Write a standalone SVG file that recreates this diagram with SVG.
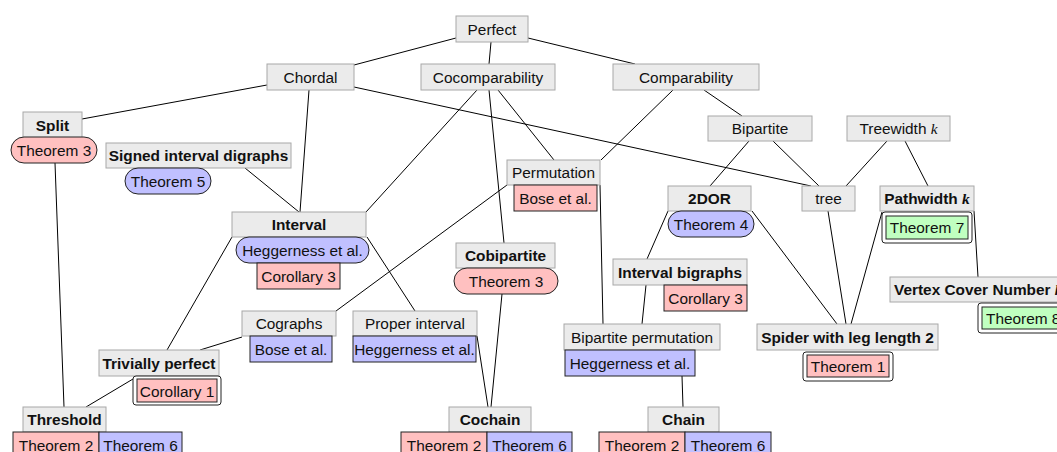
<svg xmlns="http://www.w3.org/2000/svg" width="1057" height="452" viewBox="0 0 1057 452">
<style>
.n{fill:#ebebeb;stroke:#a8a8a8;stroke-width:1}
.p{fill:#ffc0c0;stroke:#222;stroke-width:1}
.b{fill:#c0c0ff;stroke:#222;stroke-width:1}
.g{fill:#c0ffc0;stroke:#222;stroke-width:1}
.o{fill:#fff;stroke:#222;stroke-width:1}
text{font-family:"Liberation Sans",Arial,sans-serif;font-size:15.4px;fill:#111;text-anchor:middle}
.bd{font-weight:bold}
.st{text-anchor:start}
.m{font-family:"Liberation Serif","Times New Roman",serif;font-style:italic}
#edges line{stroke:#000;stroke-width:1}
</style>
<rect width="1057" height="452" fill="#fff"/>
<g id="edges">
<line x1="354" y1="65" x2="456" y2="38"/>
<line x1="491" y1="42" x2="489" y2="64"/>
<line x1="528" y1="38" x2="635" y2="64"/>
<line x1="267" y1="85" x2="82" y2="119"/>
<line x1="309" y1="90" x2="300" y2="212"/>
<line x1="354" y1="87" x2="811" y2="186"/>
<line x1="477" y1="90" x2="366" y2="212"/>
<line x1="489" y1="90" x2="504" y2="243"/>
<line x1="498" y1="90" x2="554" y2="160"/>
<line x1="673" y1="90" x2="601" y2="160"/>
<line x1="704" y1="90" x2="742" y2="116"/>
<line x1="245" y1="168" x2="299" y2="212"/>
<line x1="749" y1="141" x2="710" y2="186"/>
<line x1="773" y1="141" x2="819" y2="186"/>
<line x1="887" y1="141" x2="846" y2="186"/>
<line x1="905" y1="141" x2="928" y2="186"/>
<line x1="828" y1="211" x2="846" y2="324"/>
<line x1="882" y1="212" x2="851" y2="324"/>
<line x1="752" y1="211" x2="837" y2="324"/>
<line x1="974" y1="211" x2="978" y2="277"/>
<line x1="668" y1="211" x2="647" y2="259"/>
<line x1="646" y1="285" x2="642" y2="324"/>
<line x1="600" y1="185" x2="603" y2="324"/>
<line x1="507" y1="185" x2="336" y2="311"/>
<line x1="367" y1="237" x2="415" y2="311"/>
<line x1="232" y1="237" x2="167" y2="350"/>
<line x1="242" y1="337" x2="200" y2="350"/>
<line x1="133" y1="379" x2="86" y2="407"/>
<line x1="55" y1="163" x2="64" y2="407"/>
<line x1="502" y1="294" x2="491" y2="407"/>
<line x1="477" y1="336" x2="488" y2="407"/>
<line x1="682" y1="376" x2="683" y2="407"/>
</g>
<g id="perfect"><rect class="n" x="456" y="16" width="72" height="26"/><text x="492" y="34.5">Perfect</text></g>
<g id="chordal"><rect class="n" x="267" y="64" width="87" height="26"/><text x="310.5" y="82.5">Chordal</text></g>
<g id="cocomparability"><rect class="n" x="421" y="64" width="134" height="26"/><text x="488" y="82.5">Cocomparability</text></g>
<g id="comparability"><rect class="n" x="613" y="64" width="146" height="26"/><text x="686" y="82.5">Comparability</text></g>
<g id="bipartite"><rect class="n" x="708" y="116" width="104" height="25"/><text x="760" y="134">Bipartite</text></g>
<g id="treewidth"><rect class="n" x="847" y="116" width="103" height="25"/><text x="898.5" y="134">Treewidth <tspan class="m">k</tspan></text></g>
<g id="split"><rect class="n" x="23" y="112" width="59" height="26"/><text class="bd" x="52.5" y="130.5">Split</text>
<rect class="p" x="11" y="137" width="86" height="26" rx="13"/><text x="54" y="155.5">Theorem 3</text></g>
<g id="signed"><rect class="n" x="106" y="143" width="185" height="25"/><text class="bd" x="198.5" y="161">Signed interval digraphs</text>
<rect class="b" x="125" y="168" width="86" height="26" rx="13"/><text x="168" y="186.5">Theorem 5</text></g>
<g id="interval"><rect class="n" x="232" y="212" width="134" height="25"/><text class="bd" x="299" y="230">Interval</text>
<rect class="b" x="236" y="237" width="133" height="26" rx="13"/><text x="302.5" y="255.5">Heggerness et al.</text>
<rect class="p" x="257" y="263" width="83" height="26"/><text x="298.5" y="281.5">Corollary 3</text></g>
<g id="permutation"><rect class="n" x="507" y="160" width="93" height="25"/><text x="553.5" y="178">Permutation</text>
<rect class="p" x="514" y="185" width="83" height="26"/><text x="555.5" y="203.5">Bose et al.</text></g>
<g id="twodor"><rect class="n" x="668" y="186" width="83" height="25"/><text class="bd" x="709.5" y="204">2DOR</text>
<rect class="b" x="668" y="211" width="86" height="26" rx="13"/><text x="711" y="229.5">Theorem 4</text></g>
<g id="tree"><rect class="n" x="802" y="186" width="53" height="25"/><text x="828.5" y="204">tree</text></g>
<g id="pathwidth"><rect class="n" x="880" y="186" width="94" height="25"/><text class="bd" x="927" y="204">Pathwidth <tspan class="m">k</tspan></text>
<rect class="o" x="882" y="212" width="90" height="31" rx="3"/><rect class="g" x="886" y="216" width="82" height="23"/><text x="927" y="232.5">Theorem 7</text></g>
<g id="cobipartite"><rect class="n" x="456" y="243" width="99" height="25"/><text class="bd" x="505.5" y="261">Cobipartite</text>
<rect class="p" x="454" y="268" width="104" height="26" rx="13"/><text x="506" y="286.5">Theorem 3</text></g>
<g id="intervalbigraphs"><rect class="n" x="613" y="259" width="134" height="26"/><text class="bd" x="680" y="277.5">Interval bigraphs</text>
<rect class="p" x="664" y="285" width="83" height="26"/><text x="705.5" y="303.5">Corollary 3</text></g>
<g id="vertexcover"><rect class="n" x="890" y="277" width="180" height="25"/><text class="bd st" x="894" y="295">Vertex Cover Number <tspan class="m">k</tspan></text>
<rect class="o" x="978" y="303" width="100" height="30" rx="3"/><rect class="g" x="982" y="307" width="100" height="22"/><text class="st" x="986" y="323.5">Theorem 8</text></g>
<g id="cographs"><rect class="n" x="242" y="311" width="94" height="25"/><text x="289" y="329">Cographs</text>
<rect class="b" x="250" y="336" width="82" height="26"/><text x="291" y="354.5">Bose et al.</text></g>
<g id="properinterval"><rect class="n" x="353" y="311" width="124" height="25"/><text x="415" y="329">Proper interval</text>
<rect class="b" x="353" y="336" width="123" height="26"/><text x="414.5" y="354.5">Heggerness et al.</text></g>
<g id="bipperm"><rect class="n" x="564" y="324" width="156" height="26"/><text x="642" y="342.5">Bipartite permutation</text>
<rect class="b" x="565" y="350" width="130" height="26"/><text x="630" y="368.5">Heggerness et al.</text></g>
<g id="spider"><rect class="n" x="757" y="324" width="181" height="26"/><text class="bd" x="847.5" y="342.5">Spider with leg length 2</text>
<rect class="o" x="803" y="352" width="90" height="29" rx="3"/><rect class="p" x="807" y="355" width="82" height="22"/><text x="848" y="371.5">Theorem 1</text></g>
<g id="trivially"><rect class="n" x="99" y="350" width="120" height="26"/><text class="bd" x="159" y="368.5">Trivially perfect</text>
<rect class="o" x="133" y="376" width="88" height="29" rx="3"/><rect class="p" x="137" y="379" width="80" height="23"/><text x="177" y="396.5">Corollary 1</text></g>
<g id="threshold"><rect class="n" x="23" y="407" width="83" height="25"/><text class="bd" x="64.5" y="425">Threshold</text>
<rect class="p" x="13" y="432" width="86" height="26"/><text x="56" y="450.5">Theorem 2</text>
<rect class="b" x="99" y="432" width="83" height="26"/><text x="140.5" y="450.5">Theorem 6</text></g>
<g id="cochain"><rect class="n" x="449" y="407" width="82" height="25"/><text class="bd" x="490" y="425">Cochain</text>
<rect class="p" x="401" y="432" width="86" height="26"/><text x="444" y="450.5">Theorem 2</text>
<rect class="b" x="487" y="432" width="85" height="26"/><text x="529.5" y="450.5">Theorem 6</text></g>
<g id="chain"><rect class="n" x="648" y="407" width="71" height="25"/><text class="bd" x="683.5" y="425">Chain</text>
<rect class="p" x="599" y="432" width="86" height="26"/><text x="642" y="450.5">Theorem 2</text>
<rect class="b" x="685" y="432" width="86" height="26"/><text x="728" y="450.5">Theorem 6</text></g>
</svg>
